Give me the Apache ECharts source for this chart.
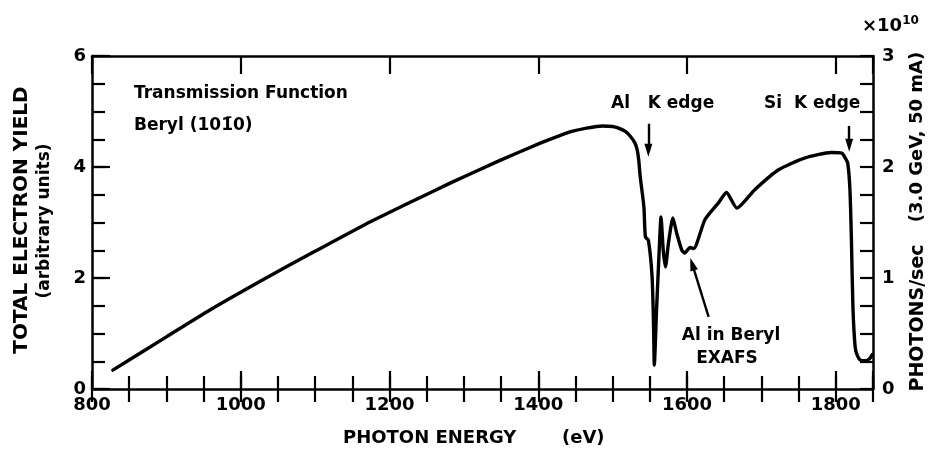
<!DOCTYPE html>
<html>
<head>
<meta charset="utf-8">
<script src="https://cdn.jsdelivr.net/npm/echarts@6/dist/echarts.min.js"></script>
<style>
  html, body { margin: 0; padding: 0; background: #fff; }
  #chart { width: 932px; height: 456px; }
</style>
</head>
<body>
<div id="chart"></div>
<script>
// Photon energy (eV) and total electron yield (arbitrary units)
const energy = [
  828, 900, 958, 1034, 1101, 1168, 1235, 1280, 1347, 1401, 1428, 1445, 1465, 1486,
  1500, 1508, 1517, 1524, 1530, 1533, 1535, 1537, 1542, 1544, 1548, 1553, 1555, 1556,
  1559, 1563, 1565, 1568, 1571, 1575, 1581, 1586, 1593, 1597, 1604, 1609, 1624, 1642,
  1653, 1667, 1691, 1723, 1758, 1794, 1808, 1812, 1816, 1819, 1821, 1823, 1826, 1829,
  1833, 1840, 1845, 1849
];
const yieldValues = [
  0.34, 0.94, 1.42, 2.00, 2.49, 2.97, 3.41, 3.70, 4.11, 4.42, 4.56, 4.64, 4.70, 4.74,
  4.73, 4.70, 4.64, 4.55, 4.43, 4.31, 4.13, 3.83, 3.28, 2.74, 2.68, 2.02, 1.12, 0.43,
  1.42, 2.63, 3.10, 2.50, 2.20, 2.63, 3.08, 2.81, 2.50, 2.45, 2.55, 2.53, 3.05, 3.35,
  3.54, 3.26, 3.59, 3.95, 4.16, 4.26, 4.25, 4.18, 4.07, 3.59, 2.68, 1.48, 0.76, 0.60,
  0.52, 0.51, 0.54, 0.62
];

// Tick labels
const xTickLabels = [800, 1000, 1200, 1400, 1600, 1800];
const yLeftTickLabels = [0, 2, 4, 6];
const yRightTickLabels = [0, 1, 2, 3];

// Arrow annotations in data coordinates: [fromEnergy, fromYield, toEnergy, toYield]
const arrowAlEdge = [1548, 4.78, 1548, 4.30];
const arrowSiEdge = [1818, 4.74, 1818, 4.39];
const arrowExafs = [1629, 1.30, 1607, 2.25];

const FONT = 'DejaVu Sans';
const INK = '#000';

const seriesData = energy.map((e, i) => [e, yieldValues[i]]);

function labelStyle(extra) {
  return Object.assign({ color: INK, fontFamily: FONT, fontWeight: 'bold', fontSize: 18 }, extra || {});
}

function tickAxis(base) {
  return Object.assign({
    type: 'value',
    splitLine: { show: false },
    axisLine: { show: false },
    axisLabel: { show: false },
    axisTick: { show: true, inside: true, length: 13, lineStyle: { color: INK, width: 2.2 } }
  }, base);
}

const frameLine = { show: true, onZero: false, lineStyle: { color: INK, width: 2.5 } };

const chart = echarts.init(document.getElementById('chart'), null, { renderer: 'canvas' });

function arrowLine(a) {
  return [{ coord: [a[0], a[1]] }, { coord: [a[2], a[3]] }];
}

const textBase = { fill: INK, fontFamily: FONT, fontWeight: 'bold', fontSize: 17 };
function txt(x, y, text, extra, rot) {
  return {
    type: 'text', x: x, y: y, rotation: rot || 0, silent: true,
    style: Object.assign({}, textBase, { text: text, align: 'left', verticalAlign: 'middle' }, extra || {})
  };
}

chart.setOption({
  animation: false,
  backgroundColor: '#fff',
  grid: { left: 92, right: 59, top: 56, bottom: 67 },
  xAxis: [
    {
      type: 'value', position: 'bottom', min: 800, max: 1850, interval: 200,
      splitLine: { show: false },
      axisLine: frameLine,
      axisTick: { show: true, inside: true, length: 18, lineStyle: { color: INK, width: 2.2 } },
      axisLabel: labelStyle({ margin: 7, formatter: v => xTickLabels.includes(v) ? String(v) : '' })
    },
    tickAxis({ position: 'bottom', min: 800, max: 1850, interval: 50 }),
    {
      type: 'value', position: 'top', min: 800, max: 1850, interval: 200,
      splitLine: { show: false },
      axisLine: frameLine,
      axisLabel: { show: false },
      axisTick: { show: true, inside: true, length: 18, lineStyle: { color: INK, width: 2.2 } }
    },
    tickAxis({ position: 'top', min: 800, max: 1850, interval: 50 })
  ],
  yAxis: [
    {
      type: 'value', position: 'left', min: 0, max: 6, interval: 2,
      splitLine: { show: false },
      axisLine: frameLine,
      axisTick: { show: true, inside: true, length: 18, lineStyle: { color: INK, width: 2.2 } },
      axisLabel: labelStyle({ margin: 6, formatter: v => yLeftTickLabels.includes(v) ? String(v) : '' })
    },
    tickAxis({ position: 'left', min: 0, max: 6, interval: 0.5 }),
    {
      type: 'value', position: 'right', min: 0, max: 3, interval: 0.25,
      splitLine: { show: false },
      axisLine: frameLine,
      axisTick: { show: true, inside: true, length: 13, lineStyle: { color: INK, width: 2.2 } },
      axisLabel: labelStyle({ margin: 9, formatter: v => yRightTickLabels.includes(v) ? String(v) : '' })
    }
  ],
  series: [
    {
      type: 'line',
      xAxisIndex: 0, yAxisIndex: 0,
      data: seriesData,
      smooth: 0.2,
      symbol: 'none',
      lineStyle: { color: INK, width: 3.4, join: 'round', cap: 'round' },
      markLine: {
        silent: true,
        animation: false,
        symbol: ['none', 'triangle'],
        symbolSize: [8, 13],
        label: { show: false },
        lineStyle: { color: INK, width: 2.4, type: 'solid' },
        itemStyle: { color: INK },
        data: [arrowLine(arrowAlEdge), arrowLine(arrowSiEdge), arrowLine(arrowExafs)]
      }
    }
  ],
  graphic: [
    txt(134, 94, 'Transmission Function'),
    txt(134, 126, 'Beryl (101\u03040)'),
    txt(611, 104, 'Al   K edge'),
    txt(764, 104, 'Si  K edge'),
    txt(731, 336, 'Al in Beryl', { align: 'center' }),
    txt(727, 359, 'EXAFS', { align: 'center' }),
    txt(343, 438, 'PHOTON ENERGY', { fontSize: 18 }),
    txt(562, 438, '(eV)', { fontSize: 18 }),
    txt(22, 220, 'TOTAL ELECTRON YIELD', { align: 'center', fontSize: 20 }, Math.PI / 2),
    txt(45, 221, '(arbitrary units)', { align: 'center' }, Math.PI / 2),
    txt(918, 318, 'PHOTONS/sec', { align: 'center', fontSize: 19 }, Math.PI / 2),
    txt(917, 137, '(3.0 GeV, 50 mA)', { align: 'center', fontSize: 18 }, Math.PI / 2),
    {
      type: 'text', x: 862, y: 26, silent: true,
      style: {
        text: '\u00d710{s|10}', fill: INK, fontFamily: FONT, fontWeight: 'bold', fontSize: 18,
        align: 'left', verticalAlign: 'middle',
        rich: { s: { fontFamily: FONT, fontWeight: 'bold', fontSize: 12, verticalAlign: 'top', padding: [0, 0, 10, 0] } }
      }
    }
  ]
});
</script>
</body>
</html>
